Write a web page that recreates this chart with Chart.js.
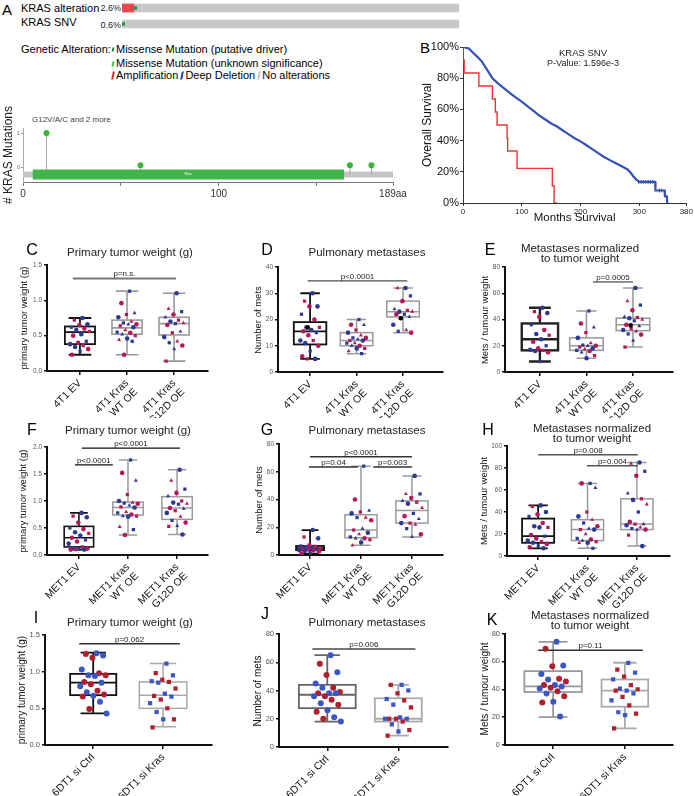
<!DOCTYPE html>
<html><head><meta charset="utf-8">
<script src="https://cdn.jsdelivr.net/npm/chart.js@4.4.1/dist/chart.umd.min.js"></script>
<style>
body{margin:0;width:694px;height:796px;position:relative;background:#fff;font-family:"Liberation Sans",Arial,sans-serif;overflow:hidden}
.t{position:absolute;white-space:nowrap;color:#000;line-height:1}
canvas{position:absolute}
.mk{display:inline-block;width:2px;height:8px;transform:skewX(-12deg);vertical-align:middle;margin-right:2px}
</style></head><body>
<script>
// ================= DATA =================
// Panel A – oncoprint
const oncoRows = ['KRAS alteration', 'KRAS SNV'];
const oncoPct = ['2.6%', '0.6%'];
const oncoAmp = [3.5, 0];          // share of the bar, amplification
const oncoMis = [0.9, 0.8];        // share of the bar, missense
// Panel A – lollipop
const protLen = 189;
const lolliPos = [12, 60, 167, 178];
const lolliCount = [1, 0.05, 0.05, 0.05];
const rasDomain = [5, 164];
const lolliTicks = [0, 50, 100, 150, 189];
// Panel B – Kaplan-Meier
const kmBlueX = [0,5,10,18,25,32,40,50,60,70,80,90,100,110,120,130,140,150,160,170,180,190,200,210,220,230,240,250,260,270,280,285,290,295,300,327,327.5,343,343.5,347,347.5];
const kmBlueY = [100,99.6,99,96,93.5,90.8,86,80,76.5,73.5,70.5,67.5,65,62,59,56,53.5,51,49,46.5,44,41.5,39.5,37,34.5,32,29.5,27.5,25.5,23.5,21.5,19.5,17,15,13.5,13.5,8,8,4.3,4.3,0];
const kmBlueCensX = [299,303,307,311,315,319,323,334,338];
const kmBlueCensY = [13.5,13.5,13.5,13.5,13.5,13.5,13.5,8,8];
const kmRedX = [0,2,27,50,55,58,75,76,92,152,155,160];
const kmRedY = [100,91.7,83.3,75,66.7,58.3,50,41.7,33.3,22.2,11.1,0];
const kmXTicks = [0,100,200,300,380];

// Box plot panels
const cats4T1 = ['4T1 EV', ['4T1 Kras','WT OE'], ['4T1 Kras','G12D OE']];
const catsMET1 = ['MET1 EV', ['MET1 Kras','WT OE'], ['MET1 Kras','G12D OE']];
const cats6DT1 = ['6DT1 si Ctrl', '6DT1 si Kras'];

// [min, q1, median, q3, max]
const boxC = [[0.23,0.38,0.55,0.63,0.75],[0.23,0.52,0.61,0.72,1.13],[0.14,0.51,0.67,0.76,1.10]];
const boxD = [[5,10.5,15.5,19,30],[7,10,12,15,20],[15,21,23,27,32]];
const boxE = [[8,16.5,25,37,49],[10.5,16.5,20,26,46.5],[19,31.5,36,41,64]];
const boxF = [[0.10,0.15,0.32,0.53,0.78],[0.37,0.74,0.88,0.98,1.76],[0.38,0.66,0.87,1.08,1.58]];
const boxG = [[1,3.5,5,6.5,18],[7,12.5,18,29,64],[13,23,32,39,57]];
const boxH = [[7,12,18,34,46],[7,14,24,33,66],[9,24,29,52,85]];
const boxI = [[0.43,0.68,0.85,0.97,1.26],[0.25,0.50,0.68,0.86,1.11]];
const boxJ = [[18,27.5,37,44,65],[8,18,20,34.5,44]];
const boxK = [[20,38,42,53,74],[12,27.5,39,47,59]];

const ptsC = [
 [0.75,0.72,0.66,0.65,0.62,0.60,0.58,0.56,0.52,0.50,0.42,0.40,0.38,0.36,0.34,0.31,0.28,0.23],
 [1.13,0.96,0.82,0.80,0.76,0.70,0.68,0.66,0.66,0.64,0.62,0.58,0.55,0.54,0.52,0.50,0.46,0.44,0.42,0.23],
 [1.10,0.88,0.84,0.80,0.76,0.72,0.70,0.68,0.67,0.65,0.56,0.54,0.48,0.42,0.40,0.36,0.31,0.14]];
const ptsD = [
 [30,27,25,25,22,20,17,17,16,15.5,15,14,12,12,11,10,8,6,5,5],
 [20,18,18,16,15,14,13,13,12.5,12,12,11,11,10,10,9,9,8,7],
 [32,32,29,27,24,23.5,23,23,22,22,21,20.5,18,16,15.5,15]];
const ptsE = [
 [49,46,45,42,36,32,29,28,25,23,20,18,17,16.5,16,15,8],
 [46.5,37,34,30,26,22,20.5,20,20,19,18,17.5,16.5,16,15,12.5,10.5],
 [64,54,51,47,42,41.5,41,40,39,36,35,33,32,31,29,28.5,24,19]];
const ptsF = [
 [0.78,0.72,0.70,0.60,0.50,0.48,0.42,0.40,0.36,0.32,0.28,0.25,0.21,0.15,0.13,0.12,0.11,0.10,0.10,0.10],
 [1.76,1.52,1.38,1.12,1.00,0.97,0.96,0.95,0.92,0.89,0.88,0.80,0.78,0.75,0.72,0.72,0.71,0.52,0.47,0.37],
 [1.58,1.38,1.22,1.15,1.09,1.00,0.97,0.95,0.94,0.87,0.86,0.82,0.78,0.71,0.64,0.60,0.54,0.53,0.38]];
const ptsG = [
 [18,13,12,7,6.5,6,5.5,5,5,4.5,4,4,3.5,3,3,2.5,1.5,1],
 [64,40,32,31,30,27,27,25,19,18,16,15,13,12,12,11,9,7],
 [57,44,44,41,39,38,37,34,30,28,26,23,23,22,19,15,13]];
const ptsH = [
 [46,45,40,38,36,30,27,26,26,19,18,16,14,13,12,11,9,8,7],
 [66,66,62,40,36,33,30,27,25,24,24,20,16,15,14,13,12,12,7],
 [85,84,77,73,57,52,51,47,40,31,29,29,28,26,25,24,24,19,9]];
const ptsI = [
 [1.25,1.24,1.22,1.19,1.03,0.98,0.95,0.95,0.94,0.86,0.85,0.83,0.80,0.74,0.72,0.69,0.67,0.66,0.59,0.49,0.43],
 [1.11,0.98,0.95,0.89,0.87,0.86,0.85,0.77,0.70,0.67,0.66,0.62,0.57,0.50,0.45,0.35,0.35,0.24]];
const ptsJ = [
 [65,59,53,51,45,42,42,39,38,38,38,36,36,33.5,31,30,26,25,21,20,18],
 [44,44,40,38,34,33,30,28,21,20,20,20,20,18,16,12,11,8]];
const ptsK = [
 [74,69,57,56.5,51,47.5,47,45.5,43,43,42,41,40.5,38.5,37,35,31,30.5,20.5],
 [59,54,52,49,47,43,40.5,40,39,39,37,34.5,32,28.5,23.5,22.5,21.5,12]];
// black points (one per group, where present)
const blackD = [17, null, 20.5];
const blackE = [null, null, 35.5];

// significance bars: from group a to group b at level y
const sigC = [{a:-0.15,b:2.04,y:1.31,t:'p=n.s.'}];
const sigD = [{a:-0.05,b:2.09,y:34.7,t:'p<0.0001'}];
const sigE = [{a:1.14,b:2.0,y:68.6,t:'p=0.0005'}];
const sigF = [{a:0.06,b:2.06,y:1.98,t:'p<0.0001'},{a:-0.08,b:0.69,y:1.67,t:'p<0.0001'}];
const sigG = [{a:0,b:2,y:70.8,t:'p<0.0001'},{a:-0.02,b:0.94,y:63.5,t:'p=0.04'},{a:1.24,b:2,y:63.5,t:'p=0.003'}];
const sigH = [{a:0,b:2.02,y:92,t:'p=0.008'},{a:0.99,b:2.02,y:82,t:'p=0.004'}];
const sigI = [{a:-0.2,b:1.24,y:1.38,t:'p=0.062'}];
const sigJ = [{a:-0.21,b:1.24,y:69.4,t:'p=0.006'}];
const sigK = [{a:-0.21,b:1.25,y:68,t:'p=0.11'}];

// ================= RENDERING =================
const FF = '"Liberation Sans", Arial, sans-serif';
Chart.defaults.font.family = FF;
Chart.defaults.animation = false;
Chart.defaults.devicePixelRatio = 1;
Chart.defaults.plugins.legend.display = false;
Chart.defaults.plugins.tooltip.enabled = false;

function txt(x, y, s, size, o = {}) {
  const d = document.createElement('div');
  d.className = 't';
  if (o.html) d.innerHTML = s; else d.textContent = s;
  d.style.left = x + 'px'; d.style.top = y + 'px'; d.style.fontSize = size + 'px';
  let tr = o.c ? 'translate(-50%,-50%)' : (o.r ? 'translate(-100%,-50%)' : 'translate(0,-50%)');
  if (o.rot) tr += ' rotate(' + o.rot + 'deg)';
  d.style.transform = tr;
  if (o.color) d.style.color = o.color;
  document.body.appendChild(d);
  return d;
}
function mkCanvas(x, y, w, h) {
  const c = document.createElement('canvas');
  c.width = w; c.height = h; c.style.left = x + 'px'; c.style.top = y + 'px';
  c.style.width = w + 'px'; c.style.height = h + 'px';
  document.body.appendChild(c);
  return c;
}

// ---- Panel A text ----
txt(7, 9, 'A', 15, {c:1});
txt(21, 8, oncoRows[0], 11);
txt(121, 8, oncoPct[0], 9, {r:1, color:'#222'});
txt(21, 22, oncoRows[1], 11);
txt(121, 25, oncoPct[1], 9, {r:1, color:'#222'});
txt(21, 49, 'Genetic Alteration:', 11);
txt(112, 49, '<span class="mk" style="background:#1c8a3a;height:4px"></span>Missense Mutation (putative driver)', 11, {html:1});
txt(112, 63, '<span class="mk" style="background:#3cc83c;height:5px"></span>Missense Mutation (unknown significance)', 11, {html:1});
txt(112, 75, '<span class="mk" style="background:#e8232a"></span>Amplification <span class="mk" style="background:#2a3fb0"></span>Deep Deletion <span class="mk" style="background:#c8c8c8"></span>No alterations', 11, {html:1});
txt(32, 120, 'G12V/A/C and 2 more', 8, {color:'#444'});

// ---- oncoprint bars ----
new Chart(mkCanvas(122, 0, 337, 32), {
  type: 'bar',
  data: { labels: oncoRows, datasets: [
    {data: oncoMis.map((v,i) => [oncoAmp[i], oncoAmp[i] + v]), backgroundColor:'#1f9a45', barThickness:3, order:0, grouped:false},
    {data: oncoAmp.map(v => v > 0 ? [0, v] : null), backgroundColor:'#e8474d', barThickness:8, order:1, grouped:false},
    {data: oncoRows.map(() => [0, 100]), backgroundColor:'#c8c8c8', barThickness:8, order:2, grouped:false}
  ]},
  options: { responsive:false, indexAxis:'y', layout:{padding:0},
    scales: { x:{type:'linear', min:0, max:100, display:false}, y:{display:false} } }
});

// ---- lollipop ----
(function(){
  const W = 420, H = 112, cx = 0, cy = 100, L = 23, R = 393, T = 128, B = 182;
  const base = -0.22;
  const stems = [];
  lolliPos.forEach((p,i) => { stems.push({x:p, y:base}, {x:p, y:lolliCount[i]}, {x:p, y:null}); });
  const cv = mkCanvas(cx, cy, W, H);
  new Chart(cv, {
    type: 'scatter',
    data: { datasets: [
      {type:'scatter', data: lolliPos.map((p,i)=>({x:p, y:lolliCount[i]})), pointRadius:3, pointBackgroundColor:'#36b536', pointBorderWidth:0, order:0},
      {type:'line', data: [{x:rasDomain[0], y:base},{x:rasDomain[1], y:base}], borderColor:'#3fb54a', borderWidth:10, borderCapStyle:'butt', pointRadius:0, order:1},
      {type:'line', data: stems, borderColor:'#a8a8a8', borderWidth:1, pointRadius:0, spanGaps:false, order:2},
      {type:'line', data: [{x:0, y:base},{x:protLen, y:base}], borderColor:'#c4c4c4', borderWidth:6, borderCapStyle:'butt', pointRadius:0, order:3}
    ]},
    options: { responsive:false, layout:{padding:{left:0, right:W-R, top:T-cy, bottom:0}},
      scales: {
        x: { type:'linear', min:0, max:protLen,
          afterBuildTicks: s => { s.ticks = lolliTicks.map(v => ({value:v})); },
          afterFit: s => { s.height = cy + H - B; },
          ticks: { autoSkip:false, maxRotation:0, font:{size:10}, color:'#333', padding:2,
            callback: v => v === 0 ? '0' : v === 100 ? '100' : v === protLen ? '189aa' : '' },
          grid: { display:true, drawOnChartArea:false, tickLength:4, color:'#777' },
          border: { color:'#777', width:1 } },
        y: { type:'linear', min:-0.44, max:1.15,
          afterBuildTicks: s => { s.ticks = [{value:0},{value:1}]; },
          afterFit: s => { s.width = L - cx; },
          ticks: { font:{size:6}, color:'#777', padding:1, callback: v => String(v) },
          grid: { display:true, drawOnChartArea:false, tickLength:2, color:'#999' },
          border: { color:'#aaa', width:1 },
          title: { display:true, text:'# KRAS Mutations', font:{size:12}, color:'#222', padding:{top:1, bottom:0} } }
      } }
  });
  txt(188, 174, 'Ras', 4, {c:1, color:'#fff'});
})();

// ---- Panel B: survival ----
(function(){
  const cx = 420, cy = 35, W = 274, H = 190, L = 463, R = 688, T = 47, B = 203;
  txt(425, 47, 'B', 15, {c:1});
  new Chart(mkCanvas(cx, cy, W, H), {
    type: 'line',
    data: { datasets: [
      {data: kmRedX.map((x,i)=>({x, y:kmRedY[i]})), borderColor:'#ee3333', borderWidth:1.4, pointRadius:0, stepped:'after', order:1},
      {data: kmBlueX.map((x,i)=>({x, y:kmBlueY[i]})), borderColor:'#3552b5', borderWidth:2.2, pointRadius:0, tension:0, order:0},
      {type:'scatter', data: kmBlueCensX.map((x,i)=>({x, y:kmBlueCensY[i]})), pointStyle:'line', rotation:90, pointRadius:2, borderColor:'#3552b5', pointBorderWidth:1, order:0}
    ]},
    options: { responsive:false, layout:{padding:{left:0, right:cx+W-R, top:T-cy, bottom:0}},
      scales: {
        x: { type:'linear', min:0, max:380,
          afterBuildTicks: s => { s.ticks = kmXTicks.map(v => ({value:v})); },
          afterFit: s => { s.height = cy + H - B; },
          ticks: { autoSkip:false, maxRotation:0, font:{size:8}, color:'#222', padding:1 },
          grid: { display:true, drawOnChartArea:false, tickLength:3, color:'#333' },
          border: { color:'#333', width:1 },
          title: { display:true, text:'Months Survival', font:{size:11.5}, color:'#111', padding:{top:0, bottom:0} } },
        y: { type:'linear', min:0, max:100,
          afterFit: s => { s.width = L - cx; },
          ticks: { stepSize:10, font:{size:11}, color:'#111', padding:1, callback: v => v + '%' },
          grid: { display:true, drawOnChartArea:false, tickLength:3, color:'#333' },
          border: { color:'#333', width:1 },
          title: { display:true, text:'Overall Survival', font:{size:12}, color:'#111', padding:{top:0, bottom:0} } }
      } }
  });
  txt(583, 53, 'KRAS SNV', 9.5, {c:1, color:'#222'});
  txt(583, 63, 'P-Value: 1.596e-3', 9, {c:1, color:'#222'});
})();

// ---- Box plot panels ----
const jit = i => (((i + 1) * 0.6180339887) % 1) - 0.5;

function makeBox(p) {
  const [cx, cy, W, H] = p.cv;
  const [L, R, T, B] = p.area;
  const pal = p.pal;
  const data = [], colors = [], shapes = [];
  p.pts.forEach((arr, g) => arr.forEach((v, i) => {
    data.push({x: g + jit(i) * p.spread, y: v});
    colors.push(i % 2 ? pal[1] : pal[0]);
    const sh = p.shapes[g];
    shapes.push(sh[i % sh.length]);
  }));
  const black = (p.black || []).map((v, g) => v == null ? null : {x: g - 0.05, y: v}).filter(Boolean);
  const plugin = {
    id: 'box' + p.id,
    beforeDatasetsDraw(chart) {
      const ctx = chart.ctx, xs = chart.scales.x, ys = chart.scales.y;
      p.boxes.forEach((b, i) => {
        const x = xs.getPixelForValue(i);
        const bw = p.boxW[i] ?? p.boxW[0];
        const hw = Math.abs(xs.getPixelForValue(i + bw / 2) - x);
        const cw = hw * p.capF;
        const [mn, q1, md, q3, mx] = b.map(v => ys.getPixelForValue(v));
        ctx.save();
        ctx.strokeStyle = p.boxColors[i]; ctx.lineWidth = p.boxLW[i];
        ctx.beginPath();
        ctx.moveTo(x, q3); ctx.lineTo(x, mx);
        ctx.moveTo(x, q1); ctx.lineTo(x, mn);
        ctx.moveTo(x - cw, mx); ctx.lineTo(x + cw, mx);
        ctx.moveTo(x - cw, mn); ctx.lineTo(x + cw, mn);
        ctx.moveTo(x - hw, md); ctx.lineTo(x + hw, md);
        ctx.stroke();
        ctx.strokeRect(x - hw, q3, 2 * hw, q1 - q3);
        ctx.restore();
      });
      p.sig.forEach(s => {
        const x1 = xs.getPixelForValue(s.a), x2 = xs.getPixelForValue(s.b), y = ys.getPixelForValue(s.y);
        ctx.save();
        ctx.strokeStyle = p.sigColor; ctx.lineWidth = p.sigW;
        ctx.beginPath(); ctx.moveTo(x1, y); ctx.lineTo(x2, y); ctx.stroke();
        ctx.fillStyle = '#222'; ctx.font = '8px ' + FF; ctx.textAlign = 'center'; ctx.textBaseline = 'alphabetic';
        ctx.fillText(s.t, (x1 + x2) / 2, y - 2);
        ctx.restore();
      });
    }
  };
  const datasets = [{ data, pointRadius: p.ptR, pointBackgroundColor: colors, pointBorderWidth: 0, pointStyle: shapes, order: 1 }];
  if (black.length) datasets.push({ data: black, pointRadius: p.ptR, pointBackgroundColor: '#000', pointBorderWidth: 0, order: 0 });
  new Chart(mkCanvas(cx, cy, W, H), {
    type: 'scatter',
    data: { datasets },
    options: { responsive:false, layout:{padding:{left:0, right:cx+W-R, top:T-cy, bottom:0}},
      scales: {
        x: { type:'linear', min:p.xr[0], max:p.xr[1],
          afterBuildTicks: s => { s.ticks = p.cats.map((c, i) => ({value:i})); },
          afterFit: s => { s.height = cy + H - B; },
          ticks: { autoSkip:false, minRotation:45, maxRotation:45, font:{size:p.catFs}, color:'#111', padding:2,
            callback: v => p.cats[v] },
          grid: { display:true, drawOnChartArea:false, tickLength:4, color:'#111', lineWidth:1.5 },
          border: { color:'#111', width:2 } },
        y: { type:'linear', min:0, max:p.ymax,
          afterFit: s => { s.width = L - cx; },
          ticks: { stepSize:p.step, font:{size:p.tickFs}, color:'#555', padding:2, callback: v => v.toFixed(p.dec) },
          grid: { display:true, drawOnChartArea:false, tickLength:3, color:'#111', lineWidth:1.5 },
          border: { color:'#111', width:2 } }
      } },
    plugins: [plugin]
  });
  txt(p.ylx, (T + B) / 2, p.ylab, p.ylabFs, {c:1, rot:-90, color:'#111'});
  txt(p.letter[0], p.letter[1], p.id, 16, {c:1});
  p.title.forEach((t, k) => txt(p.tpos[0], p.tpos[1] + k * 9.5, t, p.titleFs, {c:1, color:'#222'}));
}

const palDark = ['#2c3a94', '#b3195a'];
const palBright = ['#3b57c4', '#b01f2d'];
const sh3 = [['circle','rect','circle'],['rect','circle','triangle'],['circle','triangle','rect']];
const grayBox = '#9a9a9a';

const panels = [
 {id:'C', cv:[0,255,230,163], area:[47,208,265,371], xr:[-0.70,2.72], ymax:1.5, step:0.5, dec:1, cats:cats4T1, boxes:boxC, pts:ptsC, sig:sigC,
  boxW:[0.64], capF:0.75, boxColors:['#111',grayBox,grayBox], boxLW:[1.8,1.6,1.6], sigColor:'#777', sigW:2,
  ylab:'primary tumor weight (g)', ylx:24, letter:[32,250], title:['Primary tumor weight (g)'], tpos:[130,253]},
 {id:'D', cv:[232,255,228,163], area:[278,443,267,372], xr:[-0.69,2.86], ymax:40, step:10, dec:0, cats:cats4T1, boxes:boxD, pts:ptsD, sig:sigD, black:blackD,
  boxW:[0.7], capF:0.6, boxColors:['#111',grayBox,grayBox], boxLW:[1.8,1.5,1.5], sigColor:'#222', sigW:1,
  ylab:'Number of mets', ylx:258, letter:[267,250], title:['Pulmonary metastases'], tpos:[367,253]},
 {id:'E', cv:[462,255,232,163], area:[505,673,267,372], xr:[-0.75,2.86], ymax:80, step:20, dec:0, cats:cats4T1, boxes:boxE, pts:ptsE, sig:sigE, black:blackE,
  boxW:[0.78,0.72,0.72], capF:0.6, boxColors:['#222',grayBox,grayBox], boxLW:[2.4,1.6,1.6], sigColor:'#222', sigW:1,
  ylab:'Mets / tumour weight', ylx:485, letter:[490,250], title:['Metastases normalized','to tumor weight'], tpos:[580,249]},
 {id:'F', cv:[0,437,230,173], area:[47,208,447,555], xr:[-0.65,2.63], ymax:2.0, step:0.5, dec:1, cats:catsMET1, boxes:boxF, pts:ptsF, sig:sigF,
  boxW:[0.6,0.62,0.62], capF:0.6, boxColors:['#111',grayBox,grayBox], boxLW:[1.6,1.5,1.5], sigColor:'#111', sigW:1.3,
  ylab:'primary tumor weight (g)', ylx:23, letter:[32,430], title:['Primary tumor weight (g)'], tpos:[128,431]},
 {id:'G', cv:[232,437,228,173], area:[279,443,444,555], xr:[-0.61,2.61], ymax:80, step:20, dec:0, cats:catsMET1, boxes:boxG, pts:ptsG, sig:sigG,
  boxW:[0.55,0.63,0.63], capF:0.6, boxColors:['#111',grayBox,grayBox], boxLW:[1.8,1.5,1.5], sigColor:'#333', sigW:1.5,
  ylab:'Number of mets', ylx:259, letter:[267,430], title:['Pulmonary metastases'], tpos:[367,431]},
 {id:'H', cv:[462,437,232,173], area:[507,670,446,556], xr:[-0.63,2.67], ymax:100, step:20, dec:0, cats:catsMET1, boxes:boxH, pts:ptsH, sig:sigH,
  boxW:[0.65], capF:0.6, boxColors:['#111',grayBox,grayBox], boxLW:[1.8,1.5,1.5], sigColor:'#555', sigW:1.5,
  ylab:'Mets / tumour weight', ylx:484, letter:[488,430], title:['Metastases normalized','to tumor weight'], tpos:[592,429]},
 {id:'I', cv:[0,627,230,169], area:[45,212,635,745], xr:[-0.69,1.70], ymax:1.5, step:0.5, dec:1, cats:cats6DT1, boxes:boxI, pts:ptsI, sig:sigI,
  boxW:[0.66,0.68], capF:0.55, boxColors:['#111','#a8a8a8'], boxLW:[1.8,1.5], sigColor:'#333', sigW:1.5,
  ylab:'primary tumor weight (g)', ylx:22, letter:[36,618], title:['Primary tumor weight (g)'], tpos:[130,623]},
 {id:'J', cv:[232,627,228,169], area:[279,448,634,747], xr:[-0.68,1.70], ymax:80, step:20, dec:0, cats:cats6DT1, boxes:boxJ, pts:ptsJ, sig:sigJ,
  boxW:[0.8,0.66], capF:0.45, boxColors:['#666','#aaa'], boxLW:[1.8,1.8], sigColor:'#777', sigW:2,
  ylab:'Number of mets', ylx:258, letter:[265,614], title:['Pulmonary metastases'], tpos:[367,623]},
 {id:'K', cv:[462,627,232,169], area:[505,673,633,745], xr:[-0.67,1.67], ymax:80, step:20, dec:0, cats:cats6DT1, boxes:boxK, pts:ptsK, sig:sigK,
  boxW:[0.8,0.65], capF:0.5, boxColors:['#999','#aaa'], boxLW:[1.8,1.8], sigColor:'#333', sigW:1.5,
  ylab:'Mets / tumour weight', ylx:485, letter:[492,620], title:['Metastases normalized','to tumor weight'], tpos:[590,616]}
];
panels.forEach((p, k) => {
  const row3 = k >= 6;
  p.pal = row3 ? palBright : palDark;
  p.shapes = row3 ? [['circle'],['rect']] : sh3;
  p.ptR = row3 ? 3 : 2.3;
  p.spread = row3 ? 0.4 : 0.45;
  p.catFs = 10.5;
  p.tickFs = row3 ? 7.5 : 6.5;
  p.ylabFs = row3 ? 10 : 9.5;
  p.titleFs = 11.5;
  makeBox(p);
});
</script>
</body></html>
